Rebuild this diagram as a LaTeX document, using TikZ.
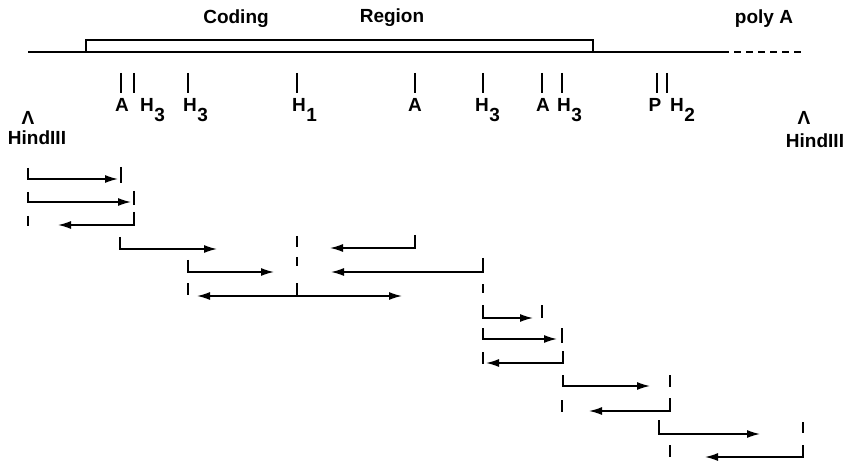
\documentclass[tikz,border=0pt]{standalone}
\usepackage{fontspec}
\setmainfont{Liberation Sans}
\usetikzlibrary{arrows.meta}

% site label with a lowered index digit
\newcommand{\site}[2]{#1\kern0.5pt\raisebox{-10pt}{#2}}

\begin{document}
\begin{tikzpicture}[x=1pt,y=-1pt,
  lab/.style={font=\fontsize{19}{22}\selectfont\bfseries, inner sep=0pt},
  caret/.style={font=\fontsize{19}{22}\selectfont\bfseries, inner sep=0pt},
  seq/.style={line width=1.5pt},
  sitetick/.style={line width=1.6pt},
  tipshape/.tip={Latex[length=13pt,width=8pt]},
  frag/.style={line width=1.5pt, -tipshape},
  bifrag/.style={line width=1.5pt, tipshape-tipshape},
  endtick/.style={line width=1.7pt},
]
\useasboundingbox (0,0) rectangle (848,462);

% ---- sequence line with the coding region ----
\coordinate (s0) at (28,52);
\coordinate (s1) at (722,52);
\coordinate (s2) at (805,52);
\draw[seq] (s0) -- (s1);
\draw[seq, dash pattern=on 7pt off 5pt] (s1) -- (s2);
\draw[seq] (86,52) -- (86,40) -- (593,40) -- (593,52);

\node[lab, anchor=base] (coding) at (236,24) {Coding};
\node[lab, anchor=base] (region) at (392,23) {Region};
\node[lab, anchor=base] (polyA)  at (764,24) {poly A};

% ---- restriction sites ----
\foreach \x in {121,134,188,297,415,483,542,562,657,667}
  \draw[sitetick] (\x,73) -- (\x,93);

\node[lab, anchor=base] (lA1) at (122,112) {A};
\node[lab, anchor=base west] (lH3a) at (140,112) {\site{H}{3}};
\node[lab, anchor=base west] (lH3b) at (183,112) {\site{H}{3}};
\node[lab, anchor=base west] (lH1) at (292,112) {\site{H}{1}};
\node[lab, anchor=base] (lA2) at (415,112) {A};
\node[lab, anchor=base west] (lH3c) at (475,112) {\site{H}{3}};
\node[lab, anchor=base] (lA3) at (543,112) {A};
\node[lab, anchor=base west] (lH3d) at (557,112) {\site{H}{3}};
\node[lab, anchor=base] (lP) at (655,112) {P};
\node[lab, anchor=base west] (lH2) at (670,112) {\site{H}{2}};

\node[caret, anchor=base] (cL) at (28,125) {Λ};
\node[lab, anchor=base] (hL) at (37,145) {HindIII};
\node[caret, anchor=base] (cR) at (804,125) {Λ};
\node[lab, anchor=base] (hR) at (815,148) {HindIII};

% ---- sequenced fragments ----
% row 1
\draw[frag] (28,168) -- (28,179) -- (118,179);
\draw[endtick] (121,167) -- (121,183);
% row 2
\draw[frag] (28,192) -- (28,202) -- (131,202);
\draw[endtick] (134,191) -- (134,205);
% row 3
\draw[endtick] (28,216) -- (28,226);
\draw[frag] (134,212) -- (134,225) -- (58,225);
% row 4
\draw[frag] (120,237) -- (120,249) -- (217,249);
\draw[frag] (415,235) -- (415,248) -- (330,248);
\draw[endtick] (297,236) -- (297,247);
% row 5
\draw[frag] (188,260) -- (188,272) -- (274,272);
\draw[frag] (483,258) -- (483,272) -- (331,272);
\draw[endtick] (297,257) -- (297,266);
% row 6
\draw[endtick] (188,283) -- (188,295);
\draw[bifrag] (197,296) -- (402,296);
\draw[line width=1.5pt] (297,283) -- (297,296);
\draw[endtick] (483,284) -- (483,293);
% row 7
\draw[frag] (483,305) -- (483,318) -- (533,318);
\draw[endtick] (542,305) -- (542,318);
% row 8
\draw[frag] (483,328) -- (483,339) -- (557,339);
\draw[endtick] (562,328) -- (562,343);
% row 9
\draw[endtick] (483,352) -- (483,364);
\draw[frag] (563,351) -- (563,363) -- (486,363);
% row 10
\draw[frag] (563,375) -- (563,386) -- (650,386);
\draw[endtick] (670,375) -- (670,387);
% row 11
\draw[endtick] (562,400) -- (562,412);
\draw[frag] (670,398) -- (670,411) -- (589,411);
% row 12
\draw[frag] (659,420) -- (659,434) -- (760,434);
\draw[endtick] (803,422) -- (803,433);
% row 13
\draw[endtick] (670,445) -- (670,457);
\draw[frag] (803,445) -- (803,457) -- (705,457);
\end{tikzpicture}
\end{document}
